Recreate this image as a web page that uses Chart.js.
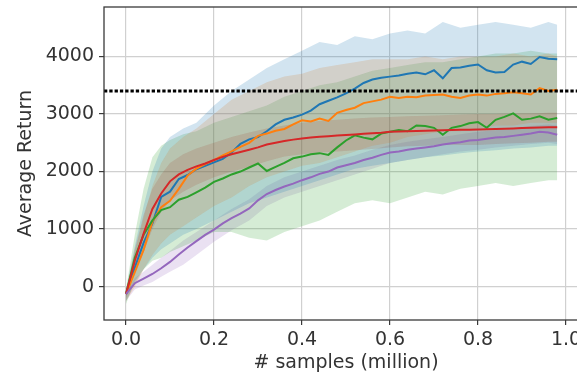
<!DOCTYPE html>
<html>
<head>
<meta charset="utf-8">
<script src="https://cdn.jsdelivr.net/npm/chart.js@4/dist/chart.umd.min.js"></script>
<style>
  html, body { margin: 0; padding: 0; background: #fff; overflow: hidden; }
  #wrap { width: 600px; height: 379px; }
</style>
</head>
<body>
<div id="wrap"><canvas id="grafica" width="600" height="379"></canvas></div>
<script>
// eje x (millones de muestras) para las curvas medias
const samples = [0.00, 0.02, 0.04, 0.06, 0.08, 0.10, 0.12, 0.14, 0.16, 0.18,
                 0.20, 0.22, 0.24, 0.26, 0.28, 0.30, 0.32, 0.34, 0.36, 0.38,
                 0.40, 0.42, 0.44, 0.46, 0.48, 0.50, 0.52, 0.54, 0.56, 0.58,
                 0.60, 0.62, 0.64, 0.66, 0.68, 0.70, 0.72, 0.74, 0.76, 0.78,
                 0.80, 0.82, 0.84, 0.86, 0.88, 0.90, 0.92, 0.94, 0.96, 0.98];

const blueMean = [-130, 330, 760, 1100, 1560, 1650, 1870, 1940, 2040, 2100,
                  2160, 2220, 2330, 2480, 2560, 2600, 2700, 2820, 2900, 2940,
                  2990, 3060, 3170, 3230, 3290, 3360, 3440, 3540, 3600, 3630,
                  3650, 3670, 3700, 3720, 3690, 3760, 3620, 3800, 3810, 3840,
                  3860, 3760, 3720, 3730, 3860, 3910, 3870, 3990, 3960, 3950];

const orangeMean = [-130, 250, 640, 1130, 1380, 1490, 1700, 1930, 2050, 2130,
                    2200, 2280, 2350, 2430, 2500, 2620, 2660, 2710, 2740, 2820,
                    2890, 2870, 2920, 2880, 3020, 3070, 3110, 3190, 3220, 3250,
                    3300, 3280, 3300, 3290, 3320, 3330, 3340, 3300, 3280, 3320,
                    3340, 3320, 3350, 3360, 3380, 3360, 3340, 3450, 3400, 3420];

const greenMean = [-130, 500, 900, 1150, 1330, 1380, 1510, 1560, 1640, 1720,
                   1820, 1880, 1950, 2000, 2070, 2140, 2010, 2080, 2150, 2230,
                   2260, 2300, 2320, 2290, 2420, 2540, 2630, 2590, 2560, 2660,
                   2690, 2720, 2700, 2800, 2790, 2760, 2640, 2760, 2790, 2840,
                   2860, 2760, 2900, 2950, 3010, 2900, 2920, 2960, 2900, 2930];

const redMean = [-130, 450, 920, 1350, 1620, 1830, 1950, 2030, 2090, 2140,
                 2200, 2255, 2300, 2340, 2380, 2420, 2470, 2500, 2530, 2555,
                 2575, 2590, 2605, 2615, 2625, 2635, 2645, 2655, 2665, 2675,
                 2690, 2695, 2700, 2705, 2710, 2715, 2720, 2722, 2725, 2728,
                 2730, 2735, 2740, 2745, 2750, 2755, 2760, 2765, 2770, 2772];

const purpleMean = [-130, 60, 140, 220, 320, 430, 560, 680, 790, 900,
                    990, 1100, 1190, 1270, 1360, 1500, 1610, 1680, 1740, 1790,
                    1850, 1900, 1960, 2000, 2070, 2110, 2150, 2200, 2240, 2290,
                    2330, 2350, 2380, 2400, 2420, 2440, 2470, 2490, 2510, 2540,
                    2550, 2570, 2590, 2600, 2620, 2640, 2660, 2690, 2680, 2640];

// eje x de las bandas (desviación entre semillas)
const bandX = [0, 0.02, 0.04, 0.06, 0.08, 0.10, 0.13, 0.16, 0.20, 0.24, 0.28, 0.32, 0.36, 0.40,
               0.44, 0.48, 0.52, 0.56, 0.60, 0.64, 0.68, 0.72, 0.76, 0.80, 0.84, 0.88, 0.92, 0.96, 0.98];

const blueUpper = [-50, 700, 1400, 2000, 2400, 2600, 2750, 2850, 3150, 3400, 3600, 3800, 3950, 4100,
                   4250, 4200, 4350, 4300, 4400, 4450, 4400, 4600, 4500, 4550, 4600, 4550, 4500, 4600, 4550];
const blueLower = [-250, 50, 300, 500, 650, 750, 900, 1000, 1150, 1300, 1450, 1550, 1650, 1750,
                   1850, 1950, 2050, 2100, 2150, 2200, 2250, 2280, 2320, 2350, 2370, 2400, 2420, 2450, 2450];

const orangeUpper = [-80, 600, 1200, 1750, 2150, 2400, 2600, 2750, 3000, 3250, 3400, 3550, 3650, 3700,
                     3800, 3850, 3900, 3950, 3950, 3950, 4000, 3950, 4000, 4000, 4000, 4050, 4000, 4050, 4000];
const orangeLower = [-250, 0, 300, 550, 750, 900, 1050, 1200, 1400, 1550, 1750, 1900, 2000, 2100,
                     2150, 2250, 2350, 2450, 2500, 2600, 2650, 2700, 2700, 2750, 2800, 2800, 2850, 2850, 2850];

const greenUpper = [-50, 900, 1700, 2250, 2450, 2550, 2650, 2700, 2850, 2950, 3050, 3150, 3300, 3400,
                    3500, 3550, 3650, 3750, 3800, 3850, 3900, 3900, 3950, 4000, 4050, 4050, 4100, 4050, 4050];
const greenLower = [-300, 100, 300, 450, 500, 600, 700, 800, 950, 950, 850, 800, 950, 1050,
                    1150, 1300, 1450, 1500, 1450, 1550, 1650, 1600, 1700, 1750, 1800, 1750, 1800, 1850, 1850];

const redUpper = [-100, 650, 1250, 1700, 1950, 2150, 2300, 2400, 2500, 2600, 2680, 2750, 2800, 2850,
                  2880, 2900, 2920, 2940, 2950, 2960, 2970, 2980, 2990, 3000, 3000, 3010, 3010, 3020, 3020];
const redLower = [-200, 250, 600, 1000, 1300, 1500, 1650, 1770, 1900, 2000, 2080, 2180, 2260, 2300,
                  2330, 2350, 2370, 2390, 2420, 2440, 2450, 2460, 2460, 2460, 2480, 2490, 2500, 2520, 2520];

const purpleUpper = [-100, 150, 260, 380, 500, 620, 800, 950, 1150, 1350, 1520, 1750, 1900, 2000,
                     2100, 2200, 2280, 2380, 2460, 2520, 2560, 2600, 2650, 2690, 2720, 2750, 2790, 2820, 2800];
const purpleLower = [-250, -50, 20, 80, 170, 260, 380, 550, 780, 980, 1150, 1400, 1550, 1650,
                     1750, 1850, 1950, 2050, 2150, 2200, 2250, 2300, 2350, 2380, 2420, 2450, 2480, 2500, 2480];

const expertReturn = 3400;
const xTicks = [0, 0.2, 0.4, 0.6, 0.8, 1.0];
const yTicks = [0, 1000, 2000, 3000, 4000];

const series = [
    { mean: blueMean,   upper: blueUpper,   lower: blueLower,   rgb: '31,119,180',  order: 5 },
    { mean: orangeMean, upper: orangeUpper, lower: orangeLower, rgb: '255,127,14',  order: 4 },
    { mean: greenMean,  upper: greenUpper,  lower: greenLower,  rgb: '44,160,44',   order: 3 },
    { mean: redMean,    upper: redUpper,    lower: redLower,    rgb: '214,39,40',   order: 2 },
    { mean: purpleMean, upper: purpleUpper, lower: purpleLower, rgb: '148,103,189', order: 1 }
];

const toPoints = (xs, ys) => xs.map((x, i) => ({ x: x, y: ys[i] }));

const datasets = [];
series.forEach(s => {
    // banda: inferior sin relleno, superior rellena hasta la anterior
    datasets.push({
        data: toPoints(bandX, s.lower),
        borderWidth: 0, borderColor: 'rgba(0,0,0,0)', pointRadius: 0, fill: false, order: 10
    });
    datasets.push({
        data: toPoints(bandX, s.upper),
        borderWidth: 0, borderColor: 'rgba(0,0,0,0)', pointRadius: 0,
        fill: '-1', backgroundColor: `rgba(${s.rgb},0.2)`, order: 10
    });
});
series.forEach(s => {
    datasets.push({
        data: toPoints(samples, s.mean),
        borderColor: `rgb(${s.rgb})`, borderWidth: 2, pointRadius: 0, fill: false, order: s.order
    });
});
datasets.push({
    data: [{ x: -0.05, y: expertReturn }, { x: 1.05, y: expertReturn }],
    borderColor: '#000', borderWidth: 3, borderDash: [3.3, 2], borderCapStyle: 'butt',
    pointRadius: 0, fill: false, order: 0
});

// marco completo de los ejes (estilo matplotlib)
const spines = {
    id: 'spines',
    afterDatasetsDraw(chart) {
        const { ctx, chartArea: a } = chart;
        ctx.save();
        ctx.strokeStyle = '#3a3a3a';
        ctx.lineWidth = 1.3;
        ctx.strokeRect(a.left, a.top, a.right - a.left, a.bottom - a.top);
        ctx.restore();
    }
};

const font = { family: 'DejaVu Sans', size: 19 };
const textColor = '#333';

new Chart(document.getElementById('grafica'), {
    type: 'line',
    data: { datasets },
    plugins: [spines],
    options: {
        responsive: false,
        animation: false,
        layout: { padding: { top: 7, right: 12, left: 0, bottom: 0 } },
        plugins: {
            legend: { display: false },
            tooltip: { enabled: false },
            filler: { drawTime: 'beforeDatasetsDraw' }
        },
        scales: {
            x: {
                type: 'linear',
                min: -0.05,
                max: 1.05,
                afterBuildTicks: axis => { axis.ticks = xTicks.map(v => ({ value: v })); },
                afterFit: axis => { axis.height = 59; axis.paddingLeft = 0; axis.paddingRight = 0; },
                ticks: {
                    font, color: textColor, padding: 4, maxRotation: 0, autoSkip: false,
                    callback: v => v.toFixed(1)
                },
                grid: { color: '#d0d0d0', lineWidth: 1.2, tickLength: 5, tickColor: '#3a3a3a', tickWidth: 1.2 },
                border: { display: false },
                title: {
                    display: true, text: '# samples (million)', font, color: textColor,
                    padding: { top: 0, bottom: 5 }
                }
            },
            y: {
                type: 'linear',
                min: -580,
                max: 4860,
                afterBuildTicks: axis => { axis.ticks = yTicks.map(v => ({ value: v })); },
                afterFit: axis => { axis.width = 104; axis.paddingTop = 0; axis.paddingBottom = 0; },
                ticks: { font, color: textColor, padding: 5, callback: v => String(v) },
                grid: { color: '#d0d0d0', lineWidth: 1.2, tickLength: 5, tickColor: '#3a3a3a', tickWidth: 1.2 },
                border: { display: false },
                title: {
                    display: true, text: 'Average Return', font, color: textColor,
                    padding: { top: 15, bottom: 0 }
                }
            }
        }
    }
});
</script>
</body>
</html>
